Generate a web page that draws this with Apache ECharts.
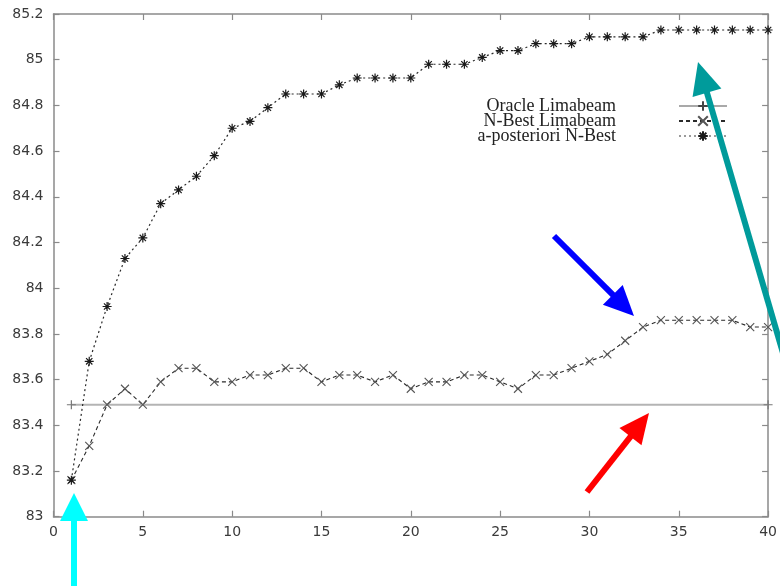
<!DOCTYPE html>
<html>
<head>
<meta charset="utf-8">
<script src="https://cdn.jsdelivr.net/npm/echarts@6/dist/echarts.min.js"></script>
<style>
  html, body { margin: 0; padding: 0; background: #ffffff; }
  #chart { width: 780px; height: 586px; }
</style>
</head>
<body>
<div id="chart"></div>
<script>
// Number of N-best hypotheses (x) against recognition accuracy (y)
const iterations = [1,2,3,4,5,6,7,8,9,10,11,12,13,14,15,16,17,18,19,20,
                    21,22,23,24,25,26,27,28,29,30,31,32,33,34,35,36,37,38,39,40];

const oracleX = [1, 40];
const oracleLimabeam = [83.49, 83.49];

const nbestLimabeam = [83.16,83.31,83.49,83.56,83.49,83.59,83.65,83.65,83.59,83.59,
                       83.62,83.62,83.65,83.65,83.59,83.62,83.62,83.59,83.62,83.56,
                       83.59,83.59,83.62,83.62,83.59,83.56,83.62,83.62,83.65,83.68,
                       83.71,83.77,83.83,83.86,83.86,83.86,83.86,83.86,83.83,83.83];

const aposterioriNBest = [83.16,83.68,83.92,84.13,84.22,84.37,84.43,84.49,84.58,84.70,
                          84.73,84.79,84.85,84.85,84.85,84.89,84.92,84.92,84.92,84.92,
                          84.98,84.98,84.98,85.01,85.04,85.04,85.07,85.07,85.07,85.10,
                          85.10,85.10,85.10,85.13,85.13,85.13,85.13,85.13,85.13,85.13];

const seriesNames = ['Oracle Limabeam', 'N-Best Limabeam', 'a-posteriori N-Best'];

const pair = (xs, ys) => xs.map((x, i) => [x, ys[i]]);

// stroke-only marker glyphs
const plusMark = 'path://M5,0L5,10M0,5L10,5';
const crossMark = 'path://M0,0L10,10M10,0L0,10';
const starMark = 'path://M5,0L5,10M0,5L10,5M1.5,1.5L8.5,8.5M8.5,1.5L1.5,8.5';

const axisGray = '#8a8a8a';
const tickFont = { fontFamily: 'DejaVu Sans', fontSize: 14, color: '#3a3a3a' };

const chart = echarts.init(document.getElementById('chart'), null, { renderer: 'canvas' });

// filled arrow: shaft from tail to base of head, triangular head at tip
function arrow(tail, tip, headLen, headHalf, shaftW, color) {
  const dx = tip[0] - tail[0], dy = tip[1] - tail[1];
  const len = Math.sqrt(dx * dx + dy * dy);
  const ux = dx / len, uy = dy / len;
  const bx = tip[0] - ux * headLen, by = tip[1] - uy * headLen;
  const px = -uy, py = ux;
  return [
    { type: 'line', silent: true, z: 100,
      shape: { x1: tail[0], y1: tail[1], x2: bx + ux * 2, y2: by + uy * 2 },
      style: { stroke: color, lineWidth: shaftW } },
    { type: 'polygon', silent: true, z: 100,
      shape: { points: [tip, [bx + px * headHalf, by + py * headHalf], [bx - px * headHalf, by - py * headHalf]] },
      style: { fill: color } }
  ];
}

const arrows = [].concat(
  arrow([74, 590], [74, 493], 28, 14, 6, '#00ffff'),
  arrow([554, 236], [634, 316], 30, 14, 6, '#0000ff'),
  arrow([587, 492], [649, 413], 30, 14, 6, '#ff0000'),
  arrow([790, 377], [698, 62], 32, 15, 6, '#009b9b')
);

chart.setOption({
  animation: false,
  backgroundColor: '#ffffff',
  grid: { left: 53.5, top: 14, right: 9, bottom: 69.3, containLabel: false },
  legend: {
    orient: 'vertical',
    align: 'right',
    right: 47,
    top: 92,
    itemWidth: 48,
    itemHeight: 12,
    itemGap: -3,
    data: [
      { name: seriesNames[0], lineStyle: { color: '#555555', width: 1.2 }, itemStyle: { borderColor: '#444444' } },
      { name: seriesNames[1] },
      { name: seriesNames[2], lineStyle: { color: '#9a9a9a' } }
    ],
    textStyle: {
      fontFamily: 'Liberation Serif',
      fontSize: 18,
      color: '#222222',
      padding: [0, 58, 0, 0]
    }
  },
  xAxis: [
    {
      type: 'value', min: 0, max: 40, interval: 5,
      axisLine: { show: true, onZero: false, lineStyle: { color: axisGray, width: 1.5 } },
      axisTick: { show: true, inside: true, length: 6, lineStyle: { color: axisGray, width: 1.2 } },
      axisLabel: Object.assign({ margin: 9 }, tickFont),
      splitLine: { show: false }
    },
    {
      type: 'value', position: 'top', min: 0, max: 40, interval: 5,
      axisLine: { show: true, onZero: false, lineStyle: { color: axisGray, width: 1.5 } },
      axisTick: { show: true, inside: true, length: 6, lineStyle: { color: axisGray, width: 1.2 } },
      axisLabel: { show: false },
      splitLine: { show: false }
    }
  ],
  yAxis: [
    {
      type: 'value', min: 83, max: 85.2, interval: 0.2,
      axisLine: { show: true, onZero: false, lineStyle: { color: axisGray, width: 1.5 } },
      axisTick: { show: true, inside: true, length: 6, lineStyle: { color: axisGray, width: 1.2 } },
      axisLabel: Object.assign({ margin: 10 }, tickFont),
      splitLine: { show: false }
    },
    {
      type: 'value', position: 'right', min: 83, max: 85.2, interval: 0.2,
      axisLine: { show: true, onZero: false, lineStyle: { color: axisGray, width: 1.5 } },
      axisTick: { show: true, inside: true, length: 6, lineStyle: { color: axisGray, width: 1.2 } },
      axisLabel: { show: false },
      splitLine: { show: false }
    }
  ],
  series: [
    {
      name: seriesNames[0], type: 'line', xAxisIndex: 0, yAxisIndex: 0,
      data: pair(oracleX, oracleLimabeam),
      symbol: plusMark, symbolSize: 9, showAllSymbol: true,
      lineStyle: { color: '#b4b4b4', width: 2, type: 'solid' },
      itemStyle: { color: 'rgba(0,0,0,0)', borderColor: '#777777', borderWidth: 1.2 },
      z: 2
    },
    {
      name: seriesNames[1], type: 'line', xAxisIndex: 0, yAxisIndex: 0,
      data: pair(iterations, nbestLimabeam),
      symbol: crossMark, symbolSize: 8, showAllSymbol: true,
      lineStyle: { color: '#2a2a2a', width: 1.1, type: [4, 3] },
      itemStyle: { color: 'rgba(0,0,0,0)', borderColor: '#555555', borderWidth: 1.1 },
      z: 3
    },
    {
      name: seriesNames[2], type: 'line', xAxisIndex: 0, yAxisIndex: 0,
      data: pair(iterations, aposterioriNBest),
      symbol: starMark, symbolSize: 9, showAllSymbol: true,
      lineStyle: { color: '#2a2a2a', width: 1.2, type: [2, 3] },
      itemStyle: { color: 'rgba(0,0,0,0)', borderColor: '#1a1a1a', borderWidth: 1.2 },
      z: 3
    }
  ],
  graphic: arrows
});
</script>
</body>
</html>
